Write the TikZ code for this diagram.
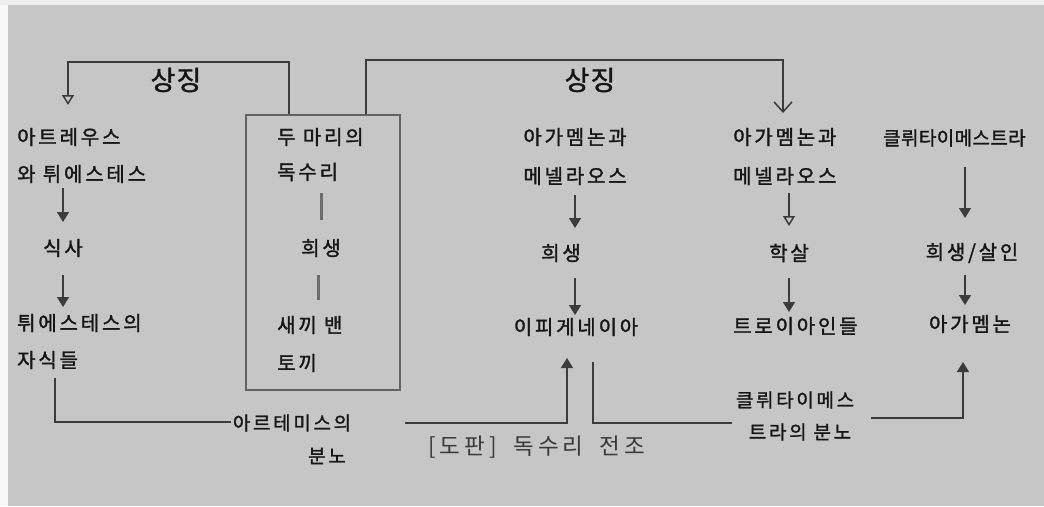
\documentclass[tikz,border=0pt]{standalone}
\usepackage{fontspec}
\newfontfamily\kr{Noto Sans CJK KR}[LetterSpace=14,FakeBold=1.6]
\newfontfamily\krtight{Noto Sans CJK KR}[LetterSpace=2,FakeBold=1.6]
\newfontfamily\krhand{Noto Sans CJK KR}[LetterSpace=14,FakeBold=1.4]
\newfontfamily\krsym{Noto Sans CJK KR}[LetterSpace=4,FakeBold=1.4]
\newfontfamily\krcap{Noto Sans CJK KR}[LetterSpace=18,WordSpace=1.8]
\usetikzlibrary{arrows.meta}
\definecolor{paper}{RGB}{198,198,198}
\definecolor{ink}{RGB}{22,22,22}
\definecolor{pencil}{RGB}{60,60,60}
\begin{document}
\begin{tikzpicture}[x=1pt,y=-1pt,
  lbl/.style={font=\kr\fontsize{20}{20}\selectfont, inner sep=0pt, text=ink},
  lw/.style={lbl, anchor=west},
  hand/.style={font=\krhand\fontsize{19}{19}\selectfont, inner sep=0pt, text=ink},
  sym/.style={font=\krsym\fontsize{27}{27}\selectfont, inner sep=0pt, text=ink},
  conn/.style={draw=pencil, line width=1.5pt},
  fa/.style={conn, -{Triangle[length=10pt,width=12pt]}},
  oa/.style={conn, -{Triangle[open,length=10pt,width=12pt]}},
  va/.style={conn, -{Straight Barb[length=10pt,width=18pt]}},
  dashbar/.style={draw=pencil!75, line width=3pt},
  boxst/.style={draw=pencil!80, line width=2.6pt, minimum width=154pt, minimum height=275pt, inner sep=0pt}
]
\useasboundingbox (0,0) rectangle (1044,506);
\fill[paper] (0,0) rectangle (1044,506);
\fill[white!88!paper] (0,0) rectangle (8,506);
\fill[white!70!paper] (0,0) rectangle (1044,5);

% left column
\node[lw] (a1) at (17,137) {아트레우스};
\node[lw] (a2) at (17,174) {와 튀에스테스};
\node[lbl] (sik) at (63,248) {식사};
\node[lw] (t1) at (17,323) {튀에스테스의};
\node[lw] (t2) at (17,360) {자식들};

% eagle box
\node[boxst] (ebox) at (323,252.5) {};
\node[lw] (e1) at (277,137) {두 마리의};
\node[lw] (e2) at (277,172) {독수리};
\node[lbl] (e3) at (321,248) {희생};
\node[lw] (e4) at (277,325) {새끼 밴};
\node[lw] (e5) at (277,363) {토끼};
\draw[dashbar] (e3 |- 0,193) -- (e3 |- 0,220);
\draw[dashbar] ([xshift=-3pt]e3.south |- 0,275) -- ([xshift=-3pt]e3.south |- 0,300);

% middle column
\node[lbl] (m1) at (575,137) {아가멤논과};
\node[lbl] (m2) at (575,176) {메넬라오스};
\node[lbl] (m3) at (561,253) {희생};
\node[lbl] (m4) at (576,327) {이피게네이아};

% right column 1
\node[lw] (r1) at (733,137) {아가멤논과};
\node[lw] (r2) at (733,176) {메넬라오스};
\node[lbl] (r3) at (789,253) {학살};
\node[lw] (r4) at (733,326) {트로이아인들};

% right column 2
\node[font=\krtight\fontsize{19}{19}\selectfont, inner sep=0pt, text=ink, anchor=west] (k1) at (883,138) {클뤼타이메스트라};
\node[lbl] (k2) at (972,253) {희생/살인};
\node[lbl] (k3) at (970,324) {아가멤논};

% symbol labels
\node[sym] (s1) at (176,80) {상징};
\node[sym] (s2) at (590,80) {상징};

% handwritten labels
\node[hand] (h1) at (292,423) {아르테미스의};
\node[hand] (h2) at (327,456) {분노};
\node[hand] (k4) at (795,400) {클뤼타이메스};
\node[hand] (k5) at (800,432) {트라의 분노};

% caption
\node[font=\krcap\fontsize{22.5}{22.5}\selectfont, inner sep=0pt, anchor=west, text=ink!85] (cap) at (428,447) {[도판] 독수리 전조};

% top connectors
\coordinate (tip1) at (68,105);
\coordinate (tip2) at (783,113);
\draw[oa] ([xshift=-34pt]ebox.north) |- (tip1 |- 0,62) -- (tip1);
\draw[va] ([xshift=43pt]ebox.north) |- (tip2 |- 0,60) -- (tip2);

% left column arrows
\draw[fa] (sik |- 0,188) -- (sik |- 0,222);
\draw[fa] (sik |- 0,275) -- (sik |- 0,307);

% middle arrows
\draw[fa] (m1 |- 0,195) -- (m1 |- 0,228);
\draw[fa] (m1 |- 0,278) -- (m1 |- 0,315);

% right column 1 arrows
\draw[oa] (r3 |- 0,193) -- (r3 |- 0,226);
\draw[fa] (r3 |- 0,278) -- (r3 |- 0,312);

% right column 2 arrows
\draw[fa] ([xshift=-7pt]k2.north |- 0,167) -- ([xshift=-7pt]k2.north |- 0,218);
\draw[fa] ([xshift=-7pt]k2.north |- 0,275) -- ([xshift=-7pt]k2.north |- 0,305);

% bottom connectors
\coordinate (b1) at (55,378);
\draw[conn] (b1) |- ([xshift=-2pt]h1.west |- 0,422);
\coordinate (b2) at (405,423);
\draw[fa] (b2) -| (567,358);
\coordinate (b3) at (593,362);
\draw[conn] (b3) |- ([xshift=-4pt]k4.west |- 0,423);
\coordinate (b4) at (871,418);
\draw[fa] (b4) -| (963,362);
\end{tikzpicture}
\end{document}
